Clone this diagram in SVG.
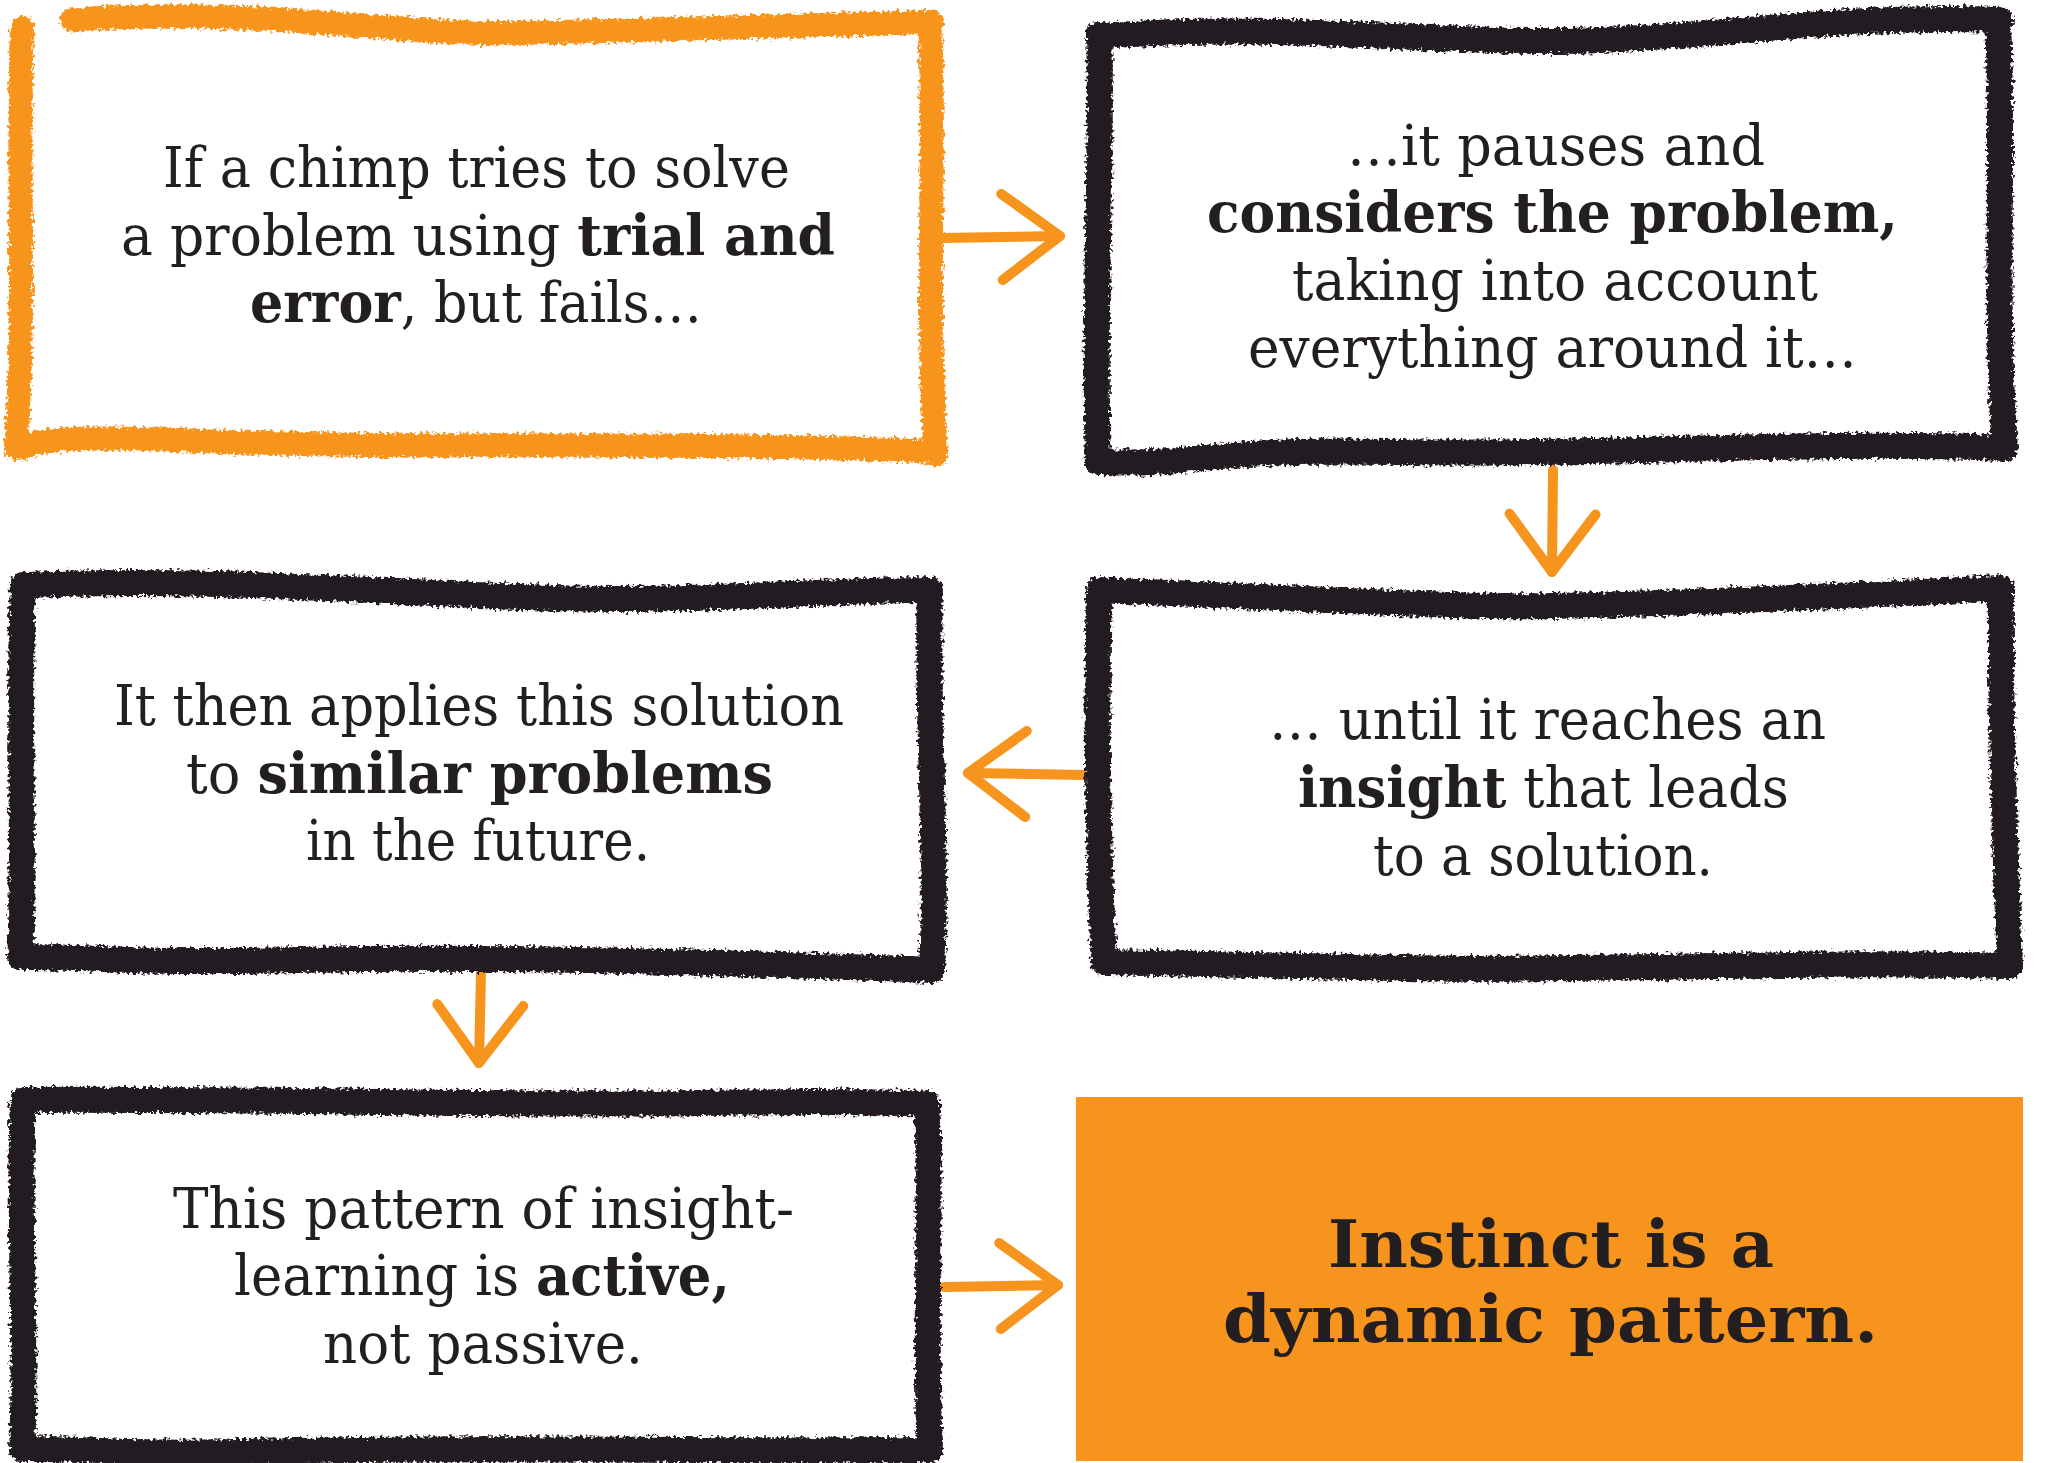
<svg xmlns="http://www.w3.org/2000/svg" width="2048" height="1463" viewBox="0 0 2048 1463">
<style>
  .bg { fill: #ffffff; }
  .txt { font-family: 'DejaVu Serif', 'Liberation Serif', serif; font-size: 56px; fill: #231f20; }
  .b { font-weight: bold; }
  .big { font-family: 'DejaVu Serif', 'Liberation Serif', serif; font-size: 66px; font-weight: bold; fill: #231f20; }
  .frame-o { fill: none; stroke: #f7941d; stroke-width: 24; stroke-linecap: round; stroke-linejoin: round; }
  .frame-k { fill: none; stroke: #231f20; stroke-width: 26; stroke-linecap: round; stroke-linejoin: round; }
  .conn { fill: none; stroke: #f7941d; stroke-width: 10; stroke-linecap: round; }
</style>
<defs>
  <filter id="rough" x="-5%" y="-5%" width="110%" height="110%">
    <feTurbulence type="fractalNoise" baseFrequency="0.3" numOctaves="2" seed="4" result="n"/>
    <feDisplacementMap in="SourceGraphic" in2="n" scale="9" xChannelSelector="R" yChannelSelector="G"/>
  </filter>
  <marker id="ah" markerUnits="userSpaceOnUse" viewBox="-75 -60 90 120" markerWidth="90" markerHeight="120" refX="0" refY="0" orient="auto" overflow="visible">
    <path d="M-58,-43 L0,0 L-58,43" fill="none" stroke="#f7941d" stroke-width="10" stroke-linecap="round" stroke-linejoin="round"/>
  </marker>
</defs>
<rect class="bg" x="0" y="0" width="2048" height="1463"/>

<g id="connectors">
  <path class="conn" d="M940,238 L1060,236" marker-end="url(#ah)"/>
  <path class="conn" d="M1553,470 L1552,572" marker-end="url(#ah)"/>
  <path class="conn" d="M1083,775 L968,773" marker-end="url(#ah)"/>
  <path class="conn" d="M481,972 L479,1063" marker-end="url(#ah)"/>
  <path class="conn" d="M944,1287 L1058,1285" marker-end="url(#ah)"/>
</g>

<g id="node-trial-error">
  <path class="frame-o" filter="url(#rough)" d="M72,20 C250,6 400,36 520,33 S800,26 932,22 M930,22 C936,150 925,300 936,455 M936,452 C700,440 400,450 200,441 S40,450 16,448 M22,28 C17,150 26,300 16,448"/>
  <text class="txt" x="163" y="187" textLength="627" lengthAdjust="spacingAndGlyphs">If a chimp tries to solve</text>
  <text class="txt" x="121" y="255" textLength="714" lengthAdjust="spacingAndGlyphs">a problem using <tspan class="b">trial and</tspan></text>
  <text class="txt" x="250" y="322" textLength="452" lengthAdjust="spacingAndGlyphs"><tspan class="b">error</tspan>, but fails…</text>
</g>

<g id="node-considers">
  <path class="frame-k" filter="url(#rough)" d="M1100,36 C1300,22 1450,46 1600,40 S1850,14 2000,20 M1998,20 C2004,150 1994,300 2005,448 M2005,448 C1800,440 1600,456 1400,452 S1200,466 1098,462 M1098,462 C1093,300 1103,150 1099,34"/>
  <text class="txt" x="1347" y="165" textLength="418" lengthAdjust="spacingAndGlyphs">…it pauses and</text>
  <text class="txt b" x="1207" y="232" textLength="691" lengthAdjust="spacingAndGlyphs">considers the problem,</text>
  <text class="txt" x="1292" y="300" textLength="526" lengthAdjust="spacingAndGlyphs">taking into account</text>
  <text class="txt" x="1248" y="367" textLength="609" lengthAdjust="spacingAndGlyphs">everything around it…</text>
</g>

<g id="node-insight">
  <path class="frame-k" filter="url(#rough)" d="M1099,590 C1300,598 1450,608 1553,606 S1850,596 2001,588 M2001,588 C2000,700 2005,850 2010,966 M2010,966 C1800,960 1600,972 1400,968 S1200,964 1104,962 M1104,962 C1098,850 1096,700 1099,590"/>
  <text class="txt" x="1269" y="739" textLength="557" lengthAdjust="spacingAndGlyphs">… until it reaches an</text>
  <text class="txt" x="1298" y="807" textLength="491" lengthAdjust="spacingAndGlyphs"><tspan class="b">insight</tspan> that leads</text>
  <text class="txt" x="1373" y="875" textLength="340" lengthAdjust="spacingAndGlyphs">to a solution.</text>
</g>

<g id="node-applies">
  <path class="frame-k" filter="url(#rough)" d="M23,585 C200,578 350,590 522,597 S800,590 930,590 M930,590 C926,700 938,850 932,970 M932,970 C700,962 500,956 300,960 S100,956 20,957 M20,957 C25,850 18,700 23,585"/>
  <text class="txt" x="114" y="725" textLength="730" lengthAdjust="spacingAndGlyphs">It then applies this solution</text>
  <text class="txt" x="186" y="793" textLength="587" lengthAdjust="spacingAndGlyphs">to <tspan class="b">similar problems</tspan></text>
  <text class="txt" x="306" y="860" textLength="344" lengthAdjust="spacingAndGlyphs">in the future.</text>
</g>

<g id="node-active">
  <path class="frame-k" filter="url(#rough)" d="M23,1100 C250,1098 500,1106 700,1103 S880,1104 927,1103 M927,1103 C932,1200 924,1350 930,1450 M930,1450 C700,1452 500,1446 300,1451 S100,1448 22,1449 M22,1449 C27,1350 18,1200 23,1100"/>
  <text class="txt" x="173" y="1228" textLength="621" lengthAdjust="spacingAndGlyphs">This pattern of insight-</text>
  <text class="txt" x="234" y="1295" textLength="496" lengthAdjust="spacingAndGlyphs">learning is <tspan class="b">active,</tspan></text>
  <text class="txt" x="323" y="1363" textLength="320" lengthAdjust="spacingAndGlyphs">not passive.</text>
</g>

<g id="node-instinct">
  <rect x="1076" y="1097" width="947" height="364" fill="#f7941e"/>
  <text class="big" x="1328" y="1267" textLength="446" lengthAdjust="spacingAndGlyphs">Instinct is a</text>
  <text class="big" x="1223" y="1342" textLength="655" lengthAdjust="spacingAndGlyphs">dynamic pattern.</text>
</g>
</svg>
